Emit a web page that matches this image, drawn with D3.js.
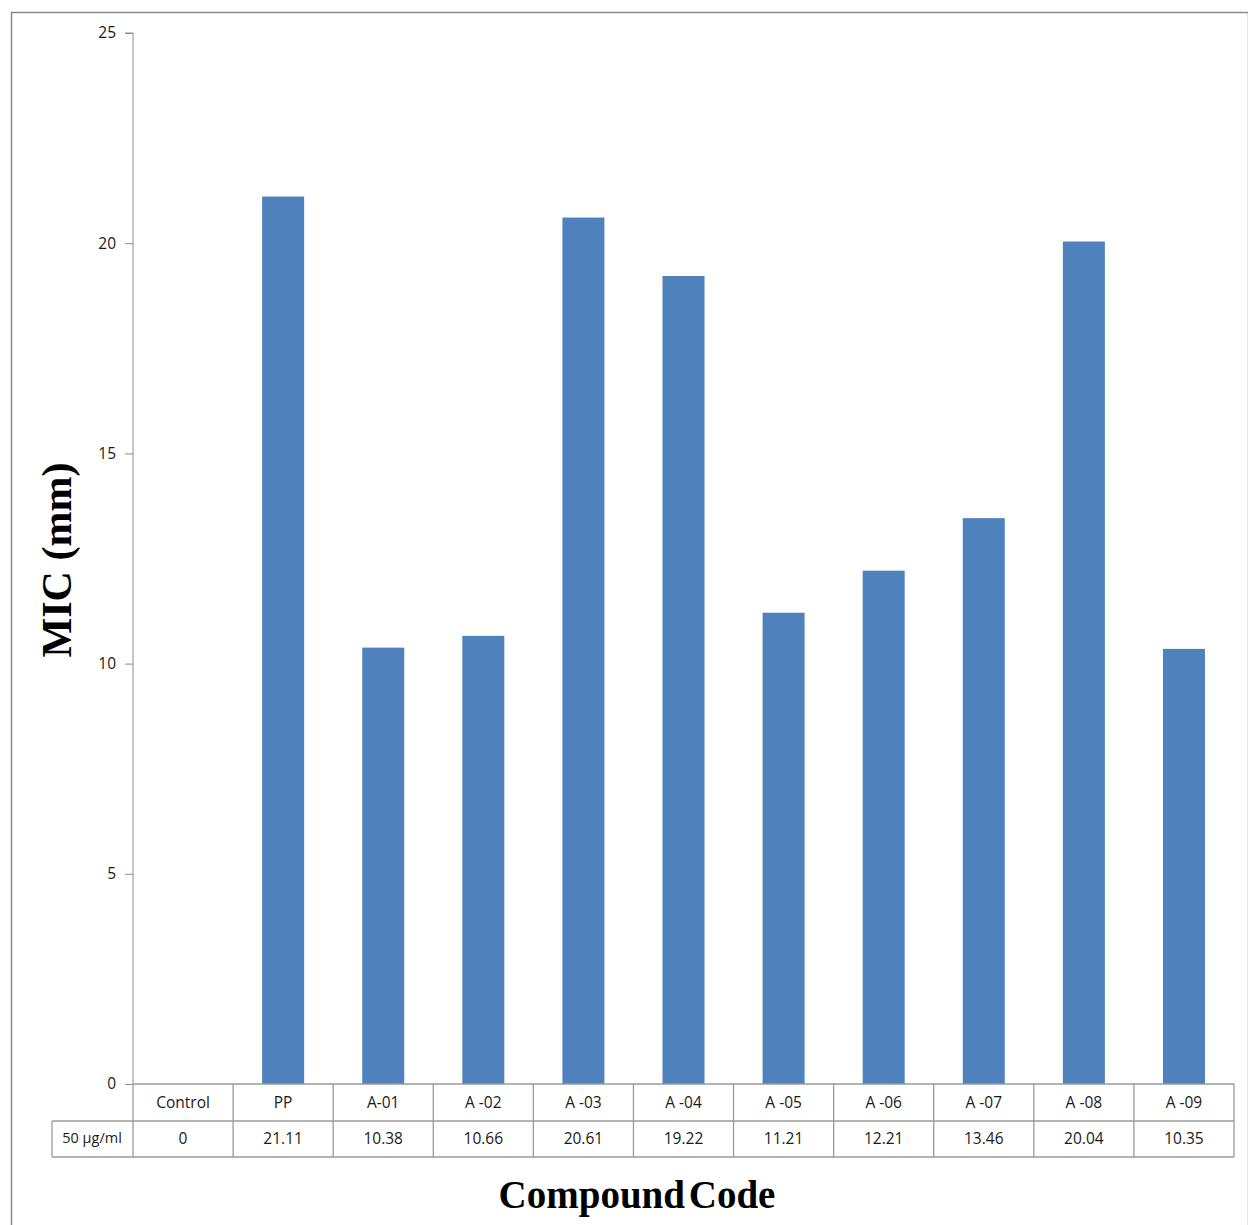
<!DOCTYPE html>
<html>
<head>
<meta charset="utf-8">
<script src="https://cdn.jsdelivr.net/npm/d3@7"></script>
<style>
  html, body { margin: 0; padding: 0; background: #fff; }
  svg { display: block; }
</style>
</head>
<body>
<script>
// Zone of inhibition per compound at 50 µg/ml
const categories = ["Control", "PP", "A-01", "A -02", "A -03", "A -04", "A -05", "A -06", "A -07", "A -08", "A -09"];
const values = [0, 21.11, 10.38, 10.66, 20.61, 19.22, 11.21, 12.21, 13.46, 20.04, 10.35];
const valueLabels = ["0", "21.11", "10.38", "10.66", "20.61", "19.22", "11.21", "12.21", "13.46", "20.04", "10.35"];
const yTicks = [0, 5, 10, 15, 20, 25];
const seriesName = "50 µg/ml";

const W = 1248, H = 1225;
const svg = d3.select("body").append("svg").attr("width", W).attr("height", H);

// chart frame
svg.append("rect").attr("x", 11.5).attr("y", 12.5).attr("width", W - 11).attr("height", H)
  .attr("fill", "none").attr("stroke", "#8c8c8c").attr("stroke-width", 1.5);

const plotLeft = 133, plotRight = 1234, plotTop = 33, plotBottom = 1084;
const x = d3.scaleBand().domain(categories).range([plotLeft, plotRight]).paddingInner(0).paddingOuter(0);
const y = d3.scaleLinear().domain([0, 25]).range([plotBottom, plotTop]);

// bars
const barW = 42;
svg.append("g").selectAll("rect").data(values).join("rect")
  .attr("x", (d, i) => x(categories[i]) + x.bandwidth() / 2 - barW / 2)
  .attr("y", d => y(d))
  .attr("width", barW)
  .attr("height", d => y(0) - y(d))
  .attr("fill", "#4F81BD");

// y axis
const yAxis = d3.axisLeft(y).tickValues(yTicks).tickSize(8).tickPadding(9);
const gy = svg.append("g").attr("transform", `translate(${plotLeft},0)`).call(yAxis);
gy.select(".domain").attr("stroke", "#8c8c8c").attr("d", `M-8,${plotTop}H0V${plotBottom}`);
gy.selectAll(".tick line").attr("stroke", "#8c8c8c");
gy.selectAll(".tick text").attr("fill", "#1a1a1a").attr("font-family", "'Open Sans', sans-serif").attr("font-size", 15.5);

// data table under the plot
const rowH = 37;
const tbl = svg.append("g").attr("stroke", "#9a9a9a").attr("stroke-width", 1.3).attr("fill", "none");
tbl.append("line").attr("x1", plotLeft).attr("x2", plotRight).attr("y1", plotBottom).attr("y2", plotBottom);
tbl.append("line").attr("x1", 52).attr("x2", plotRight).attr("y1", plotBottom + rowH).attr("y2", plotBottom + rowH);
tbl.append("line").attr("x1", 52).attr("x2", plotRight).attr("y1", plotBottom + 2 * rowH - 1).attr("y2", plotBottom + 2 * rowH - 1);
tbl.append("line").attr("x1", 52).attr("x2", 52).attr("y1", plotBottom + rowH).attr("y2", plotBottom + 2 * rowH - 1);
tbl.selectAll(".v").data(categories.concat(["_end"])).join("line")
  .attr("x1", (d, i) => plotLeft + i * x.bandwidth())
  .attr("x2", (d, i) => plotLeft + i * x.bandwidth())
  .attr("y1", plotBottom).attr("y2", plotBottom + 2 * rowH - 1);

const txt = svg.append("g").attr("font-family", "'Open Sans', sans-serif").attr("font-size", 15.5)
  .attr("fill", "#1a1a1a").attr("text-anchor", "middle");
txt.selectAll(".cat").data(categories).join("text")
  .attr("x", d => x(d) + x.bandwidth() / 2).attr("y", plotBottom + rowH / 2 + 5).text(d => d);
txt.selectAll(".val").data(valueLabels).join("text")
  .attr("x", (d, i) => x(categories[i]) + x.bandwidth() / 2).attr("y", plotBottom + rowH * 1.5 + 4).text(d => d);
txt.append("text").attr("x", 92).attr("y", plotBottom + rowH * 1.5 + 3).text(seriesName).attr("font-size", 14.5);

// axis titles
svg.append("text").attr("x", 637).attr("y", 1208).attr("text-anchor", "middle")
  .attr("font-family", "'Liberation Serif', 'Times New Roman', serif").attr("font-weight", "bold")
  .attr("font-size", 39).attr("fill", "#000").attr("word-spacing", -6).text("Compound Code");
svg.append("text").attr("transform", "translate(71,560) rotate(-90)").attr("text-anchor", "middle")
  .attr("font-family", "'Liberation Serif', 'Times New Roman', serif").attr("font-weight", "bold")
  .attr("font-size", 42).attr("fill", "#000").text("MIC (mm)");
</script>
</body>
</html>
